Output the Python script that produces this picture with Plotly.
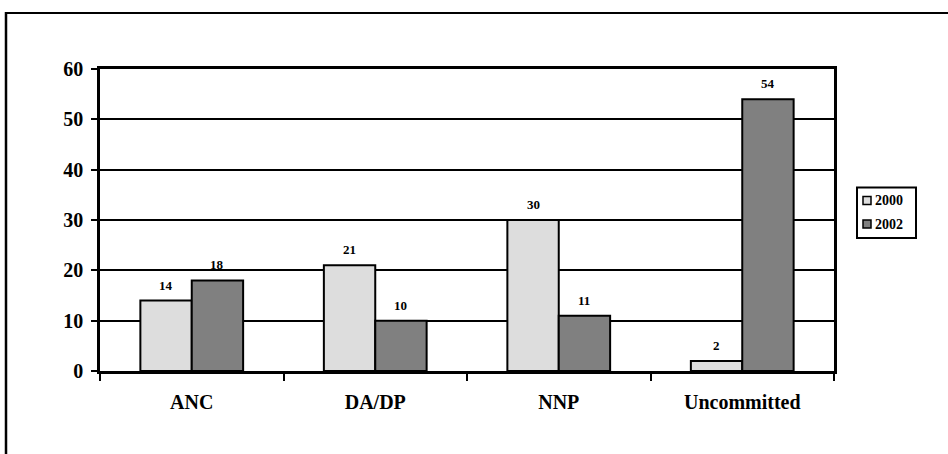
import plotly.graph_objects as go

categories = ["ANC", "DA/DP", "NNP", "Uncommitted"]
values_2000 = [14, 21, 30, 2]
values_2002 = [18, 10, 11, 54]
series_names = ["2000", "2002"]
series_colors = ["#DDDDDD", "#808080"]
y_ticks = [0, 10, 20, 30, 40, 50, 60]

W, H = 948, 454
L, R, T, B = 100, 948 - 834, 69, 454 - 371
pw, ph = W - L - R, H - T - B

def px2x(px):
    return (px - L) / pw

def py2y(py):
    return (H - B - py) / ph

font_family = "Liberation Serif, Times New Roman, serif"
bargap = 0.44
cat_w = pw / len(categories)
bar_w = cat_w * (1 - bargap) / 2

fig = go.Figure()
annotations = []
for i, (name, vals, col) in enumerate(zip(series_names, [values_2000, values_2002], series_colors)):
    fig.add_trace(go.Bar(
        x=categories, y=vals, name=name,
        marker=dict(color=col, line=dict(color="black", width=2)),
        showlegend=False,
    ))
    off = (i - 0.5) * bar_w
    for c, v in zip(categories, vals):
        annotations.append(dict(
            x=c, y=v, xref="x", yref="y", text=str(v), showarrow=False,
            xshift=off, yshift=6, yanchor="bottom", xanchor="center",
            font=dict(family=font_family, size=13, color="black", weight="bold"),
        ))

# custom legend
shapes = [
    dict(type="rect", xref="paper", yref="paper",
         x0=px2x(857), x1=px2x(916), y0=py2y(238), y1=py2y(187.5),
         line=dict(color="black", width=2), fillcolor="white"),
]
legend_rows = [200.5, 224]
for name, col, yc in zip(series_names, series_colors, legend_rows):
    shapes.append(dict(type="rect", xref="paper", yref="paper",
                       x0=px2x(863), x1=px2x(871), y0=py2y(yc + 4), y1=py2y(yc - 4),
                       line=dict(color="black", width=1.5), fillcolor=col))
    annotations.append(dict(x=px2x(873), y=py2y(yc), xref="paper", yref="paper",
                            text=name, showarrow=False, xanchor="left", yanchor="middle",
                            font=dict(family=font_family, size=14, color="black", weight="bold")))

# outer frame (top and left edges visible)
shapes.append(dict(type="line", xref="paper", yref="paper",
                   x0=px2x(5), x1=px2x(950), y0=py2y(13), y1=py2y(13),
                   line=dict(color="black", width=2)))
shapes.append(dict(type="line", xref="paper", yref="paper",
                   x0=px2x(6), x1=px2x(6), y0=py2y(12), y1=py2y(460),
                   line=dict(color="black", width=2.5)))

fig.update_layout(
    width=W, height=H,
    margin=dict(l=L, r=R, t=T, b=B),
    paper_bgcolor="white", plot_bgcolor="white",
    barmode="group", bargap=bargap, bargroupgap=0,
    font=dict(family=font_family, color="black"),
    showlegend=False,
    xaxis=dict(
        type="category", tickson="boundaries", ticks="outside", ticklen=7,
        tickwidth=2, tickcolor="black", ticklabelstandoff=11,
        showline=True, linecolor="black", linewidth=2.5, mirror=True,
        tickfont=dict(family=font_family, size=20, color="black", weight="bold"),
        showgrid=False,
    ),
    yaxis=dict(
        range=[0, 60], tickvals=y_ticks, ticks="outside", ticklen=6,
        tickwidth=2, tickcolor="black", ticklabelstandoff=4,
        showline=True, linecolor="black", linewidth=2.5, mirror=True,
        showgrid=True, gridcolor="black", gridwidth=2,
        zeroline=False,
        tickfont=dict(family=font_family, size=20, color="black", weight="bold"),
    ),
    shapes=shapes,
    annotations=annotations,
)

fig.write_html("out.html", config={"displayModeBar": False},
               post_script="document.body.style.margin='0';document.body.style.overflow='hidden';")
